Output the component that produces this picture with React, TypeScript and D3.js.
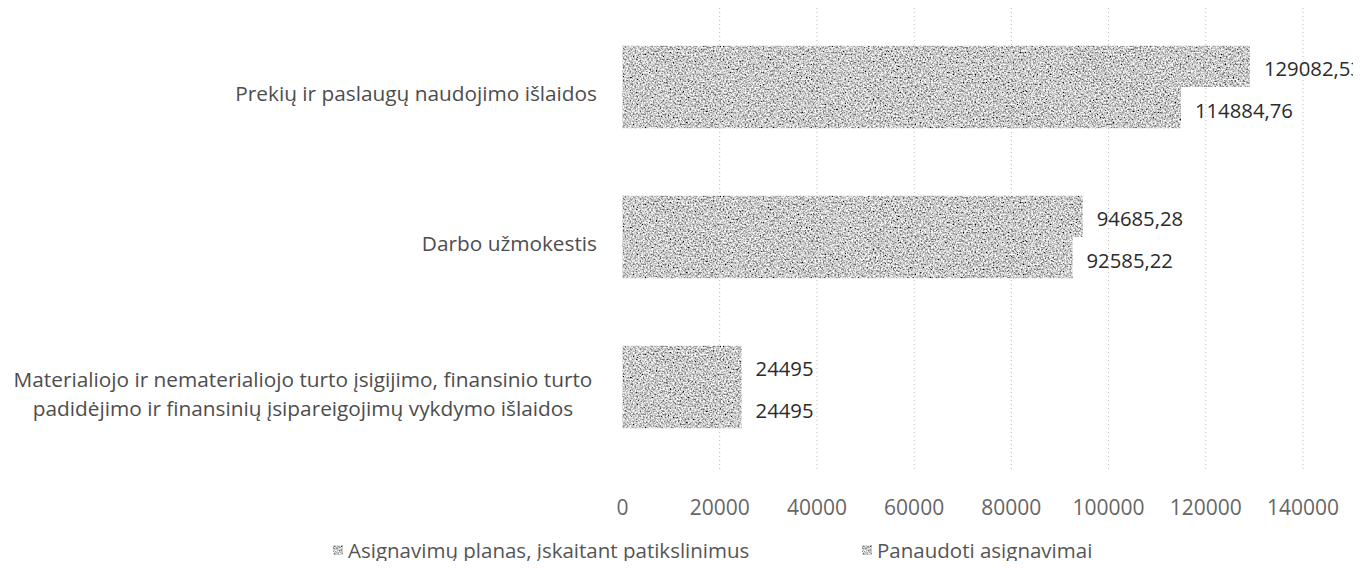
import { useEffect, useRef } from "react";
import * as d3 from "d3";

// categories, top to bottom
const categories: string[][] = [
  ["Prekių ir paslaugų naudojimo išlaidos"],
  ["Darbo užmokestis"],
  [
    "Materialiojo ir nematerialiojo turto įsigijimo, finansinio turto",
    "padidėjimo ir finansinių įsipareigojimų vykdymo išlaidos",
  ],
];

const seriesNames = [
  "Asignavimų planas, įskaitant patikslinimus",
  "Panaudoti asignavimai",
];

const planValues = [129082.53, 94685.28, 24495];
const usedValues = [114884.76, 92585.22, 24495];

const xTicks = [0, 20000, 40000, 60000, 80000, 100000, 120000, 140000];

const fmt = (v: number) => String(v).replace(".", ",");

export default function App() {
  const svgRef = useRef<SVGSVGElement>(null);

  useEffect(() => {
    const width = 1361;
    const height = 569;
    const font = "'Open Sans', 'Noto Sans', sans-serif";

    const svg = d3
      .select(svgRef.current)
      .attr("width", width)
      .attr("height", height)
      .style("display", "block")
      .style("font-family", font);

    svg.selectAll("*").remove();

    // grainy gray fill, like the scanned bars
    const defs = svg.append("defs");
    const filter = defs
      .append("filter")
      .attr("id", "grain")
      .attr("x", 0)
      .attr("y", 0)
      .attr("width", 1)
      .attr("height", 1);
    filter
      .append("feTurbulence")
      .attr("type", "fractalNoise")
      .attr("baseFrequency", 0.6)
      .attr("numOctaves", 3)
      .attr("seed", 7)
      .attr("result", "noise");
    filter
      .append("feColorMatrix")
      .attr("in", "noise")
      .attr("type", "matrix")
      .attr(
        "values",
        "1.9 0 0 0 -0.36  1.9 0 0 0 -0.36  1.9 0 0 0 -0.36  0 0 0 0 1"
      )
      .attr("result", "gray");
    filter
      .append("feComposite")
      .attr("in", "gray")
      .attr("in2", "SourceGraphic")
      .attr("operator", "in");

    const x = d3.scaleLinear().domain([0, 140000]).range([622.5, 1303]);

    const y = d3
      .scaleBand<number>()
      .domain(categories.map((_, i) => i))
      .range([12, 462])
      .paddingInner(0.45)
      .paddingOuter(0.225);

    const ySub = d3
      .scaleBand<number>()
      .domain([0, 1])
      .range([0, y.bandwidth()]);

    // gridlines
    svg
      .append("g")
      .selectAll("line")
      .data(xTicks.slice(1))
      .join("line")
      .attr("x1", (d) => x(d))
      .attr("x2", (d) => x(d))
      .attr("y1", 0)
      .attr("y2", 472)
      .attr("stroke", "#bcbcbc")
      .attr("stroke-width", 1)
      .attr("stroke-dasharray", "1,3");

    const rows = categories.map((_, i) => ({
      i,
      vals: [planValues[i], usedValues[i]],
    }));

    const groups = svg
      .append("g")
      .selectAll("g")
      .data(rows)
      .join("g")
      .attr("transform", (d) => `translate(0,${y(d.i)})`);

    groups
      .selectAll("rect")
      .data((d) => d.vals.map((v, s) => ({ v, s })))
      .join("rect")
      .attr("x", x(0))
      .attr("y", (d) => ySub(d.s) as number)
      .attr("width", (d) => x(d.v) - x(0))
      .attr("height", ySub.bandwidth())
      .attr("fill", "#9c9c9c")
      .attr("filter", "url(#grain)");

    groups
      .selectAll("text")
      .data((d) => d.vals.map((v, s) => ({ v, s })))
      .join("text")
      .attr("x", (d) => x(d.v) + 14)
      .attr("y", (d) => (ySub(d.s) as number) + ySub.bandwidth() / 2 + 2)
      .attr("dominant-baseline", "central")
      .attr("font-size", 20.3)
      .attr("fill", "#2b2b2b")
      .text((d) => fmt(d.v));

    // category labels
    const cat = svg.append("g");
    categories.forEach((lines, i) => {
      const cy = (y(i) as number) + y.bandwidth() / 2;
      const lh = 29;
      const multi = lines.length > 1;
      lines.forEach((line, k) => {
        cat
          .append("text")
          .attr("x", multi ? 303 : 597)
          .attr("y", cy + (k - (lines.length - 1) / 2) * lh + 6)
          .attr("text-anchor", multi ? "middle" : "end")
          .attr("dominant-baseline", "central")
          .attr("font-size", 20.8)
          .attr("fill", "#4d4d4d")
          .text(line);
      });
    });

    // x tick labels
    svg
      .append("g")
      .selectAll("text")
      .data(xTicks)
      .join("text")
      .attr("x", (d) => x(d))
      .attr("y", 507)
      .attr("text-anchor", "middle")
      .attr("dominant-baseline", "central")
      .attr("font-size", 21)
      .attr("fill", "#666")
      .text((d) => String(d));

    // legend
    const legendX = [333, 862];
    const legend = svg
      .append("g")
      .selectAll("g")
      .data(seriesNames)
      .join("g")
      .attr("transform", (_, i) => `translate(${legendX[i]},550)`);
    legend
      .append("rect")
      .attr("x", 0)
      .attr("y", -5)
      .attr("width", 10)
      .attr("height", 10)
      .attr("fill", "#9c9c9c")
      .attr("filter", "url(#grain)");
    legend
      .append("text")
      .attr("x", 15)
      .attr("y", 0)
      .attr("dominant-baseline", "central")
      .attr("font-size", 20.5)
      .attr("fill", "#555")
      .text((d) => d);
  }, []);

  return (
    <div style={{ margin: -8 }}>
      <svg ref={svgRef}></svg>
    </div>
  );
}
